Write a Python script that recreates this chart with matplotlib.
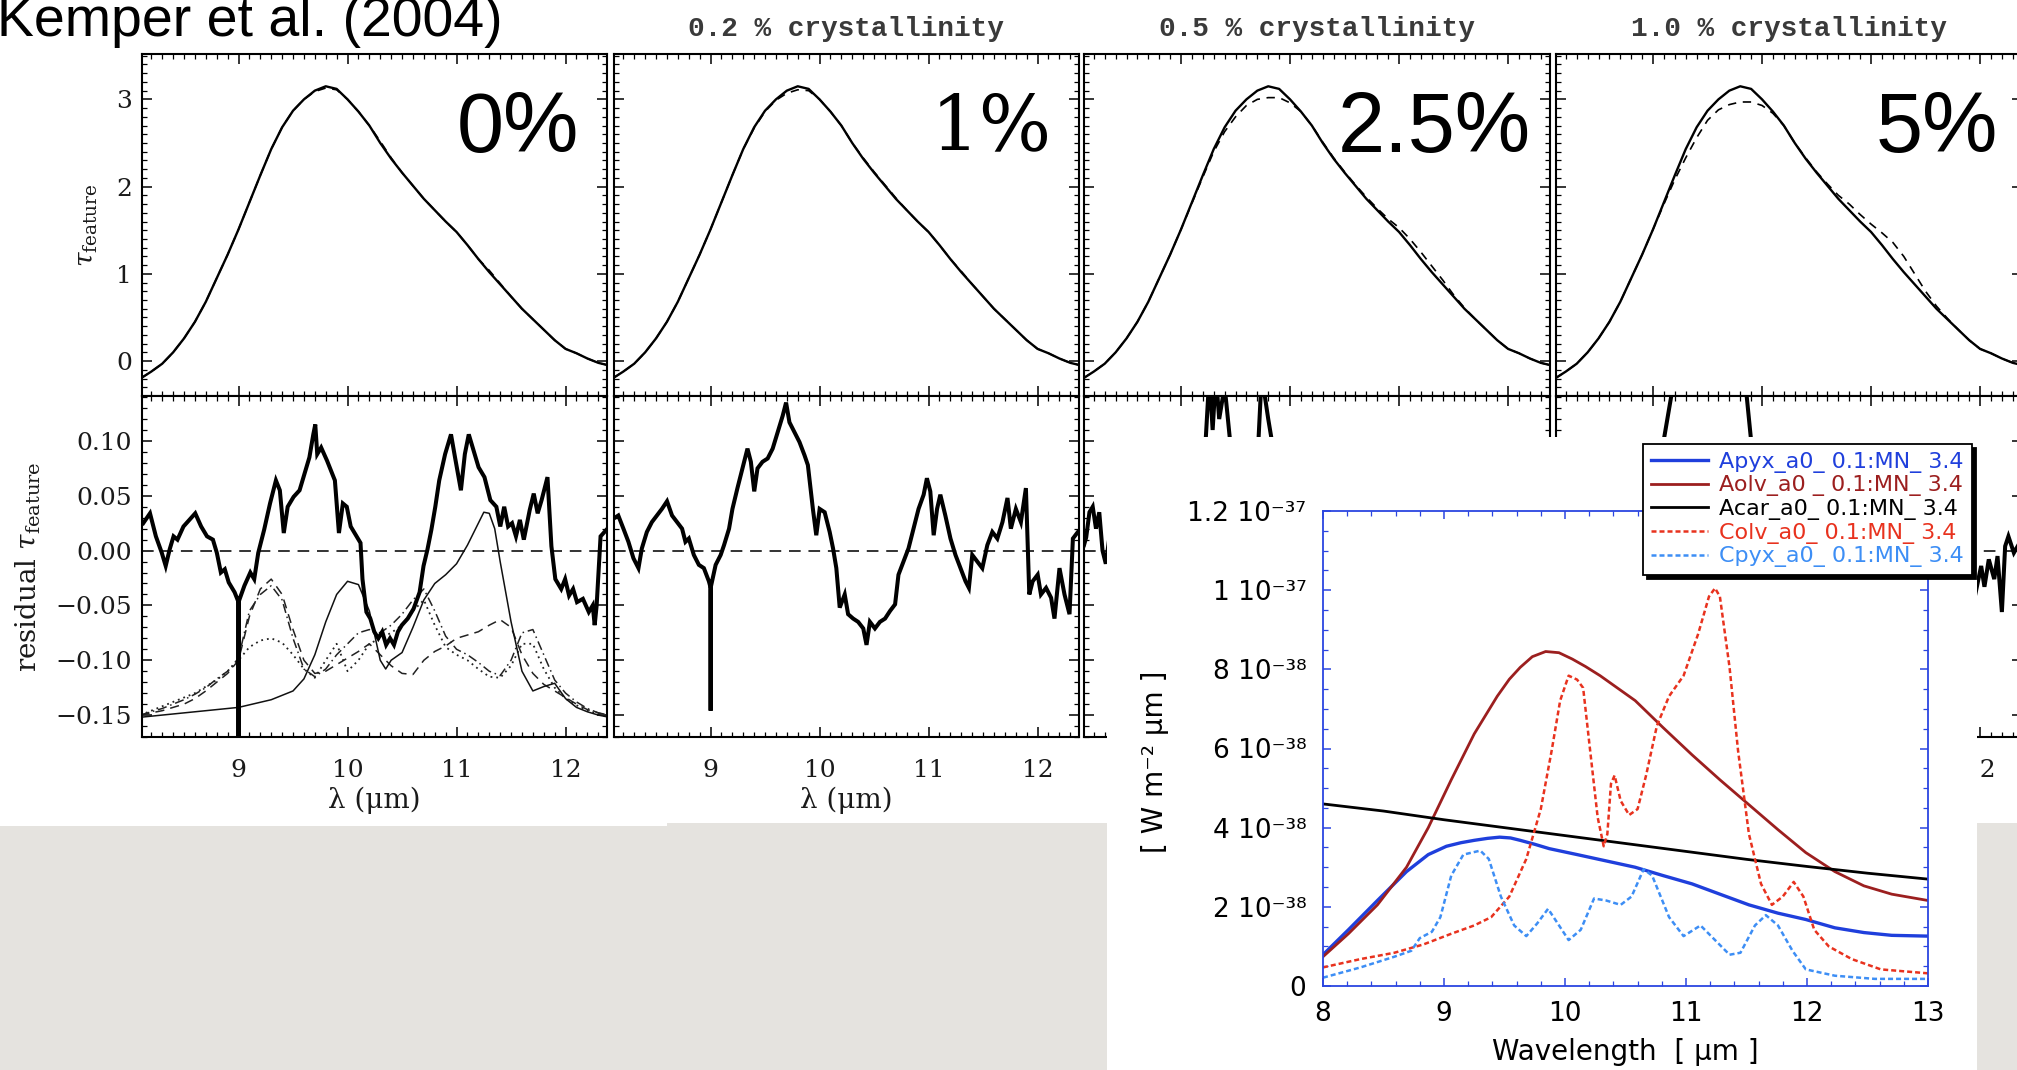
import numpy as np
import matplotlib
matplotlib.use("Agg")
import matplotlib.pyplot as plt
from matplotlib.patches import Rectangle
from matplotlib.ticker import MultipleLocator, FuncFormatter

plt.rcParams['font.family'] = 'DejaVu Serif'
plt.rcParams['mathtext.fontset'] = 'dejavuserif'

W, H = 2017, 1070
nan = np.nan

# ---------------- data: Kemper et al. (2004) panels ----------------
wl = [8.1, 8.2, 8.3, 8.4, 8.5, 8.6, 8.7, 8.8, 8.9, 9.0, 9.1, 9.2, 9.3, 9.4, 9.5,
      9.6, 9.7, 9.8, 9.9, 10.0, 10.1, 10.2, 10.3, 10.4, 10.5, 10.6, 10.7, 10.8,
      10.9, 11.0, 11.1, 11.2, 11.3, 11.4, 11.5, 11.6, 11.7, 11.8, 11.9, 12.0,
      12.1, 12.2, 12.3, 12.4]
tau_obs = [-0.20, -0.12, -0.03, 0.10, 0.26, 0.45, 0.68, 0.95, 1.22, 1.51, 1.82,
           2.13, 2.43, 2.68, 2.87, 3.00, 3.10, 3.15, 3.12, 3.00, 2.86, 2.70, 2.50,
           2.32, 2.16, 2.01, 1.86, 1.73, 1.60, 1.48, 1.33, 1.17, 1.02, 0.88, 0.74,
           0.60, 0.48, 0.36, 0.24, 0.14, 0.09, 0.03, -0.02, -0.05]
tau_model_0 = [-0.20, -0.12, -0.03, 0.10, 0.26, 0.45, 0.68, 0.95, 1.22, 1.51, 1.82,
               2.13, 2.43, 2.68, 2.87, 3.00, 3.09, 3.13, 3.11, 3.00, 2.86, 2.70, 2.52,
               2.33, 2.16, 2.01, 1.86, 1.73, 1.60, 1.48, 1.33, 1.17, 1.04, 0.89, 0.74,
               0.60, 0.48, 0.36, 0.24, 0.14, 0.09, 0.03, -0.02, -0.05]
tau_model_1 = [-0.20, -0.12, -0.03, 0.10, 0.26, 0.45, 0.68, 0.95, 1.22, 1.51, 1.82,
               2.13, 2.43, 2.67, 2.86, 2.99, 3.07, 3.11, 3.10, 3.00, 2.86, 2.70, 2.50,
               2.33, 2.17, 2.02, 1.87, 1.73, 1.60, 1.48, 1.33, 1.17, 1.03, 0.88, 0.74,
               0.60, 0.48, 0.36, 0.24, 0.14, 0.09, 0.03, -0.02, -0.05]
tau_model_2p5 = [-0.20, -0.12, -0.03, 0.10, 0.26, 0.45, 0.68, 0.95, 1.22, 1.51, 1.81,
                 2.11, 2.40, 2.63, 2.80, 2.93, 3.00, 3.02, 3.02, 2.96, 2.86, 2.70, 2.51,
                 2.33, 2.17, 2.02, 1.88, 1.75, 1.63, 1.53, 1.40, 1.25, 1.09, 0.93, 0.76,
                 0.61, 0.48, 0.36, 0.24, 0.14, 0.09, 0.03, -0.02, -0.05]
tau_model_5 = [-0.20, -0.12, -0.03, 0.10, 0.26, 0.45, 0.68, 0.95, 1.22, 1.51, 1.80,
               2.08, 2.33, 2.56, 2.76, 2.88, 2.94, 2.97, 2.97, 2.93, 2.84, 2.70, 2.50,
               2.33, 2.17, 2.03, 1.90, 1.80, 1.68, 1.57, 1.47, 1.36, 1.20, 1.00, 0.80,
               0.63, 0.49, 0.36, 0.24, 0.14, 0.09, 0.03, -0.02, -0.05]

# residuals (observed - model)
res1_x = [8.126, 8.188, 8.242, 8.296, 8.332, 8.368, 8.404, 8.440, 8.495, 8.549, 8.603,
          8.657, 8.711, 8.765, 8.801, 8.838, 8.874, 8.910, 8.964, 9.000, 9.000, 9.000,
          9.054, 9.108, 9.144, 9.181, 9.235, 9.289, 9.343, 9.379, 9.415, 9.451, 9.505,
          9.560, 9.596, 9.650, 9.686, 9.704, 9.722, 9.758, 9.812, 9.848, 9.884, 9.921,
          9.957, 9.993, 10.029, 10.065, 10.119, 10.137, 10.173, 10.209, 10.245, 10.282,
          10.318, 10.354, 10.390, 10.426, 10.462, 10.498, 10.552, 10.606, 10.661,
          10.697, 10.733, 10.769, 10.805, 10.841, 10.895, 10.949, 10.986, 11.040,
          11.076, 11.112, 11.148, 11.202, 11.256, 11.310, 11.365, 11.401, 11.437,
          11.473, 11.509, 11.545, 11.581, 11.617, 11.671, 11.708, 11.744, 11.780,
          11.834, 11.870, 11.906, 11.960, 11.996, 12.032, 12.069, 12.105, 12.159,
          12.213, 12.249, 12.267, 12.285, 12.321, 12.375]
res1_y = [0.025, 0.034, 0.013, -0.002, -0.014, 0.001, 0.013, 0.010, 0.022, 0.028, 0.034,
          0.022, 0.013, 0.010, -0.002, -0.020, -0.017, -0.029, -0.038, -0.047, -0.170,
          -0.047, -0.032, -0.020, -0.026, -0.002, 0.019, 0.043, 0.064, 0.055, 0.016,
          0.040, 0.049, 0.055, 0.067, 0.085, 0.106, 0.115, 0.088, 0.094, 0.082, 0.073,
          0.064, 0.016, 0.043, 0.040, 0.022, 0.016, 0.007, -0.026, -0.056, -0.062,
          -0.074, -0.080, -0.074, -0.086, -0.080, -0.086, -0.074, -0.068, -0.062,
          -0.053, -0.038, -0.014, 0.001, 0.019, 0.040, 0.064, 0.088, 0.106, 0.085,
          0.055, 0.088, 0.106, 0.094, 0.076, 0.067, 0.046, 0.040, 0.022, 0.040, 0.022,
          0.025, 0.013, 0.028, 0.010, 0.037, 0.052, 0.034, 0.046, 0.067, 0.004, -0.026,
          -0.035, -0.026, -0.041, -0.035, -0.047, -0.044, -0.056, -0.050, -0.068,
          -0.050, 0.013, 0.019]
res2_x = [8.108, 8.154, 8.201, 8.247, 8.293, 8.339, 8.370, 8.416, 8.462, 8.508, 8.554,
          8.601, 8.647, 8.693, 8.739, 8.770, 8.801, 8.847, 8.893, 8.939, 8.985, 9.001,
          9.001, 9.001, 9.047, 9.093, 9.124, 9.170, 9.201, 9.247, 9.293, 9.339, 9.370,
          9.401, 9.431, 9.477, 9.524, 9.570, 9.616, 9.662, 9.693, 9.724, 9.770, 9.816,
          9.862, 9.893, 9.939, 9.970, 10.001, 10.047, 10.093, 10.124, 10.154, 10.185,
          10.231, 10.262, 10.308, 10.354, 10.401, 10.431, 10.462, 10.508, 10.554,
          10.601, 10.647, 10.693, 10.724, 10.770, 10.816, 10.862, 10.908, 10.955,
          10.985, 11.016, 11.047, 11.078, 11.108, 11.154, 11.201, 11.247, 11.293,
          11.339, 11.370, 11.401, 11.447, 11.493, 11.539, 11.585, 11.631, 11.678,
          11.724, 11.755, 11.801, 11.847, 11.893, 11.924, 11.955, 12.001, 12.031,
          12.078, 12.124, 12.155, 12.201, 12.247, 12.293, 12.324, 12.370]
res2_y = [0.029, 0.032, 0.020, 0.008, -0.007, -0.016, 0.002, 0.017, 0.026, 0.032, 0.038,
          0.045, 0.032, 0.026, 0.020, 0.008, 0.011, -0.004, -0.013, -0.016, -0.028,
          -0.034, -0.146, -0.034, -0.013, -0.004, 0.005, 0.020, 0.038, 0.057, 0.075,
          0.093, 0.081, 0.054, 0.075, 0.081, 0.084, 0.093, 0.108, 0.123, 0.135, 0.117,
          0.108, 0.099, 0.087, 0.078, 0.038, 0.014, 0.038, 0.035, 0.017, 0.002, -0.016,
          -0.052, -0.040, -0.058, -0.062, -0.065, -0.071, -0.086, -0.065, -0.071,
          -0.065, -0.062, -0.055, -0.049, -0.022, -0.010, 0.002, 0.020, 0.038, 0.051,
          0.066, 0.054, 0.014, 0.038, 0.051, 0.032, 0.011, -0.004, -0.016, -0.028,
          -0.034, -0.004, -0.010, -0.016, 0.005, 0.017, 0.011, 0.026, 0.048, 0.020,
          0.038, 0.026, 0.057, -0.040, -0.028, -0.022, -0.040, -0.034, -0.043, -0.062,
          -0.016, -0.040, -0.058, 0.011, 0.017]
# only the readable (unhidden) parts of the 0.5 % and 1.0 % residuals
res3_x = [8.11, 8.13, 8.16, 8.19, 8.22, 8.25, 8.28, 8.31, 8.34, nan,
          9.18, 9.22, 9.26, 9.29, 9.32, 9.35, 9.40, 9.45, 9.50, nan,
          9.70, 9.74, 9.80, 9.85, 9.90]
res3_y = [0.005, 0.012, 0.035, 0.040, 0.020, 0.035, 0.000, -0.012, 0.010, nan,
          0.060, 0.090, 0.160, 0.110, 0.160, 0.120, 0.150, 0.100, 0.070, nan,
          0.080, 0.160, 0.120, 0.090, 0.060]
res4_x = [9.02, 9.08, 9.14, 9.20, 9.50, 9.84, 9.88, 9.92, nan,
          11.90, 11.96, 12.01, 12.04, 12.08, 12.13, 12.16, 12.20, 12.23, 12.26, 12.31, 12.38]
res4_y = [0.060, 0.090, 0.125, 0.160, 0.180, 0.160, 0.120, 0.080, nan,
          -0.020, -0.038, -0.014, -0.033, -0.008, -0.026, -0.005, -0.056, 0.004, 0.013,
          -0.002, 0.010]

# laboratory dust components (offset) shown in the 0 % residual panel
comp_dash = [-0.150, -0.148, -0.146, -0.143, -0.140, -0.135, -0.128, -0.120, -0.112,
             -0.100, -0.060, -0.035, -0.026, -0.040, -0.072, -0.100, -0.112, -0.110,
             -0.104, -0.098, -0.092, -0.085, -0.095, -0.105, -0.112, -0.113, -0.100,
             -0.092, -0.087, -0.080, -0.077, -0.074, -0.068, -0.063, -0.070, -0.095,
             -0.112, -0.122, -0.128, -0.134, -0.140, -0.145, -0.148, -0.150]
comp_dashdot = [-0.150, -0.147, -0.144, -0.140, -0.136, -0.131, -0.125, -0.117, -0.110,
                -0.098, -0.055, -0.040, -0.032, -0.045, -0.080, -0.108, -0.115, -0.108,
                -0.095, -0.085, -0.075, -0.072, -0.075, -0.068, -0.058, -0.045, -0.035,
                -0.055, -0.078, -0.090, -0.095, -0.102, -0.110, -0.114, -0.100, -0.075,
                -0.072, -0.095, -0.118, -0.130, -0.138, -0.144, -0.148, -0.151]
comp_dot = [-0.150, -0.146, -0.142, -0.138, -0.134, -0.130, -0.124, -0.118, -0.110,
            -0.100, -0.088, -0.082, -0.080, -0.084, -0.095, -0.108, -0.116, -0.100,
            -0.085, -0.110, -0.100, -0.085, -0.080, -0.075, -0.068, -0.055, -0.045,
            -0.068, -0.088, -0.095, -0.100, -0.108, -0.115, -0.116, -0.105, -0.085,
            -0.085, -0.108, -0.125, -0.135, -0.141, -0.146, -0.149, -0.152]
comp_solid_x = [8.1, 8.5, 9.0, 9.3, 9.5, 9.6, 9.7, 9.8, 9.9, 10.0, 10.1, 10.2, 10.3,
                10.35, 10.4, 10.5, 10.6, 10.7, 10.8, 10.9, 11.0, 11.1, 11.2, 11.25, 11.3,
                11.35, 11.4, 11.5, 11.6, 11.7, 11.8, 11.9, 12.0, 12.1, 12.2, 12.3, 12.4]
comp_solid_y = [-0.152, -0.148, -0.143, -0.136, -0.128, -0.117, -0.095, -0.065, -0.040,
                -0.028, -0.031, -0.055, -0.100, -0.108, -0.100, -0.093, -0.070, -0.045,
                -0.030, -0.022, -0.012, 0.005, 0.025, 0.035, 0.034, 0.020, -0.010, -0.065,
                -0.110, -0.128, -0.124, -0.121, -0.135, -0.143, -0.147, -0.150, -0.152]

panel_titles = ['', '0.2 % crystallinity', '0.5 % crystallinity', '1.0 % crystallinity']
panel_tags = ['0%', '1%', '2.5%', '5%']

# ---------------- data: model spectra inset (units of 1e-38 W m^-2 um) ----------------
apyx_x = [8.0, 8.21, 8.45, 8.69, 8.87, 9.02, 9.14, 9.25, 9.36, 9.46, 9.55, 9.63, 9.75,
          9.87, 10.10, 10.34, 10.58, 10.81, 11.05, 11.28, 11.52, 11.76, 11.99, 12.23,
          12.47, 12.70, 13.0]
apyx_y = [0.79, 1.42, 2.16, 2.89, 3.32, 3.53, 3.62, 3.68, 3.73, 3.76, 3.74, 3.68, 3.58,
          3.47, 3.32, 3.16, 3.00, 2.79, 2.58, 2.32, 2.05, 1.84, 1.68, 1.47, 1.35, 1.28,
          1.26]
aolv_x = [8.0, 8.21, 8.45, 8.69, 8.87, 9.06, 9.25, 9.44, 9.54, 9.63, 9.73, 9.84, 9.95,
          10.06, 10.17, 10.29, 10.58, 10.81, 11.05, 11.28, 11.52, 11.76, 11.99, 12.23,
          12.47, 12.70, 13.0]
aolv_y = [0.74, 1.32, 2.05, 3.00, 4.00, 5.21, 6.37, 7.32, 7.75, 8.05, 8.32, 8.45, 8.42,
          8.26, 8.07, 7.84, 7.21, 6.53, 5.84, 5.21, 4.58, 3.95, 3.37, 2.89, 2.53, 2.32,
          2.16]
acar_x = [8.0, 8.5, 9.0, 9.5, 10.0, 10.5, 11.0, 11.5, 12.0, 12.5, 13.0]
acar_y = [4.60, 4.42, 4.20, 4.00, 3.80, 3.60, 3.40, 3.20, 3.02, 2.85, 2.70]
colv_x = [8.0, 8.31, 8.59, 8.83, 9.06, 9.25, 9.39, 9.54, 9.68, 9.80, 9.89, 9.96, 10.03,
          10.10, 10.15, 10.20, 10.27, 10.32, 10.35, 10.38, 10.41, 10.46, 10.53, 10.60,
          10.67, 10.76, 10.86, 10.98, 11.10, 11.19, 11.24, 11.28, 11.36, 11.43, 11.52,
          11.62, 11.71, 11.80, 11.89, 11.97, 12.06, 12.18, 12.37, 12.61, 13.0]
colv_y = [0.47, 0.68, 0.84, 1.05, 1.32, 1.53, 1.74, 2.26, 3.21, 4.47, 5.95, 7.21, 7.84,
          7.74, 7.53, 6.16, 4.26, 3.53, 3.84, 5.11, 5.32, 4.68, 4.32, 4.47, 5.32, 6.58,
          7.32, 7.84, 8.89, 9.84, 10.05, 9.84, 8.05, 5.95, 3.84, 2.58, 2.05, 2.26, 2.63,
          2.26, 1.42, 1.00, 0.68, 0.42, 0.32]
cpyx_x = [8.0, 8.31, 8.59, 8.73, 8.80, 8.90, 8.97, 9.06, 9.16, 9.30, 9.37, 9.47, 9.58,
          9.68, 9.77, 9.86, 9.94, 10.03, 10.13, 10.24, 10.34, 10.46, 10.55, 10.65, 10.72,
          10.86, 10.98, 11.12, 11.24, 11.36, 11.45, 11.57, 11.66, 11.76, 11.88, 11.99,
          12.23, 12.56, 13.0]
cpyx_y = [0.21, 0.47, 0.74, 0.89, 1.21, 1.37, 1.74, 2.79, 3.32, 3.42, 3.21, 2.26, 1.53,
          1.26, 1.58, 1.95, 1.58, 1.16, 1.42, 2.21, 2.16, 2.05, 2.26, 2.95, 2.79, 1.74,
          1.26, 1.53, 1.16, 0.79, 0.84, 1.53, 1.79, 1.53, 0.89, 0.42, 0.26, 0.18, 0.18]
inset_labels = ['Apyx_a0_ 0.1:MN_ 3.4', 'Aolv_a0 _ 0.1:MN_ 3.4', 'Acar_a0_ 0.1:MN_ 3.4',
                'Colv_a0_ 0.1:MN_ 3.4', 'Cpyx_a0_ 0.1:MN_ 3.4']

# ---------------- figure ----------------
fig = plt.figure(figsize=(W / 100, H / 100), dpi=100)
fig.patch.set_facecolor('white')


def frect(l, t, w, h):
    return [l / W, 1 - (t + h) / H, w / W, h / H]


GRAY = '#e5e3df'
for (l, t, w) in [(0, 826, 667), (667, 823, 440), (1977, 823, 60)]:
    fig.add_artist(Rectangle((l / W, 0), w / W, (H - t) / H, transform=fig.transFigure,
                             facecolor=GRAY, edgecolor='none', zorder=1))

fig.text(-3 / W, 1 - 36 / H, 'Kemper et al. (2004)', fontsize=40, family='Liberation Sans',
         va='baseline', ha='left', zorder=3)

lefts = [141.5, 613.5, 1084.0, 1556.0]
PW = 465.5
TOP_T, TOP_H = 54, 342
BOT_T, BOT_H = 396, 341
XL = (8.11, 12.38)


def style_idl(ax):
    for sp in ax.spines.values():
        sp.set_linewidth(1.5)
        sp.set_color('black')
    ax.tick_params(which='both', direction='in', top=True, right=True, bottom=True,
                   left=True, color='black', labelsize=18, labelcolor='#1a1a1a')
    ax.tick_params(which='major', length=7, width=1.1)
    ax.tick_params(which='minor', length=3.5, width=0.9)
    ax.set_xlim(*XL)
    ax.xaxis.set_major_locator(MultipleLocator(1))
    ax.xaxis.set_minor_locator(MultipleLocator(0.1))


def resid_fmt(v, pos):
    if abs(v) < 1e-9:
        return '0.00'
    return f'{v:.2f}'.replace('-', '\u2212')


tau_models = [tau_model_0, tau_model_1, tau_model_2p5, tau_model_5]
residuals = [(res1_x, res1_y), (res2_x, res2_y), (res3_x, res3_y), (res4_x, res4_y)]
tag_pos = [(579, 152), (1052, 149), (1531, 152), (1998, 152)]
tag_font = [('Liberation Sans', 61), ('DejaVu Serif', 55), ('Liberation Sans', 61),
            ('Liberation Sans', 61)]

for i in range(4):
    axT = fig.add_axes(frect(lefts[i], TOP_T, PW, TOP_H), zorder=2)
    style_idl(axT)
    axT.plot(wl, tau_obs, color='black', lw=1.7)
    axT.plot(wl, tau_models[i], color='black', lw=1.2, ls=(0, (5, 4)))
    axT.set_ylim(-0.40, 3.52)
    axT.yaxis.set_major_locator(MultipleLocator(1))
    axT.yaxis.set_minor_locator(MultipleLocator(0.1))
    axT.tick_params(labelbottom=False, labelleft=(i == 0), pad=7)
    if panel_titles[i]:
        axT.set_title(panel_titles[i], fontfamily='Liberation Mono', fontweight='bold',
                      fontsize=20, color='#3a3a3a', pad=13)
    fam, fs = tag_font[i]
    fig.text(tag_pos[i][0] / W, 1 - tag_pos[i][1] / H, panel_tags[i], family=fam,
             fontsize=fs, ha='right', va='baseline', zorder=3)

    axB = fig.add_axes(frect(lefts[i], BOT_T, PW, BOT_H), zorder=2)
    style_idl(axB)
    axB.axhline(0, color='#333333', lw=1.4, ls=(0, (6, 4)))
    if i == 0:
        axB.plot(wl, comp_dash, color='#222222', lw=1.1, ls=(0, (6, 4)))
        axB.plot(wl, comp_dashdot, color='#222222', lw=1.1, ls=(0, (6, 2.5, 1, 2.5)))
        axB.plot(wl, comp_dot, color='#222222', lw=1.3, ls=(0, (1, 2.2)))
        axB.plot(comp_solid_x, comp_solid_y, color='#111111', lw=1.1)
    rx, ry = residuals[i]
    axB.plot(rx, ry, color='black', lw=2.9, solid_joinstyle='miter')
    axB.set_ylim(-0.170, 0.141)
    axB.yaxis.set_major_locator(MultipleLocator(0.05))
    axB.yaxis.set_minor_locator(MultipleLocator(0.01))
    axB.yaxis.set_major_formatter(FuncFormatter(resid_fmt))
    axB.tick_params(labelleft=(i == 0), pad=7)
    axB.tick_params(axis='x', pad=16)
    if i == 2:
        # the 0.5 % panel's x axis labels lie entirely under the inset
        axB.tick_params(labelbottom=False)
    else:
        axB.set_xlabel('λ (μm)', fontsize=20, color='#1a1a1a')
        axB.xaxis.set_label_coords(0.5, -(800 - 737) / BOT_H)
        axB.xaxis.label.set_va('center')
    if i == 0:
        axT.set_ylabel(r'$\tau_{\rm feature}$', fontsize=19, color='#1a1a1a')
        axT.yaxis.set_label_coords((88 - lefts[0]) / PW, 0.5)
        axT.yaxis.label.set_va('center')
        axB.set_ylabel(r'residual $\tau_{\rm feature}$', fontsize=20, color='#1a1a1a')
        axB.yaxis.set_label_coords((28 - lefts[0]) / PW, 0.5)
        axB.yaxis.label.set_va('center')

# ---------------- inset: model spectra ----------------
fig.add_artist(Rectangle((1107 / W, 0), (1977 - 1107) / W, (H - 437) / H,
                         transform=fig.transFigure, facecolor='white', edgecolor='none',
                         zorder=5))
IL, IT, IW, IH = 1323, 511, 605, 475
axi = fig.add_axes(frect(IL, IT, IW, IH), zorder=6)
axi.set_facecolor('white')
C_APYX, C_AOLV, C_ACAR, C_COLV, C_CPYX = '#1f3fdc', '#9c1f1f', '#000000', '#e8321e', '#3d8ef5'
axi.plot(apyx_x, apyx_y, color=C_APYX, lw=2.4, label=inset_labels[0])
axi.plot(aolv_x, aolv_y, color=C_AOLV, lw=2.0, label=inset_labels[1])
axi.plot(acar_x, acar_y, color=C_ACAR, lw=2.0, label=inset_labels[2])
axi.plot(colv_x, colv_y, color=C_COLV, lw=1.8, ls=(0, (2, 1.2)), label=inset_labels[3])
axi.plot(cpyx_x, cpyx_y, color=C_CPYX, lw=1.8, ls=(0, (2, 1.2)), label=inset_labels[4])
axi.set_xlim(8, 13)
axi.set_ylim(0, 12)
axi.xaxis.set_major_locator(MultipleLocator(1))
axi.xaxis.set_minor_locator(MultipleLocator(0.2))
axi.yaxis.set_major_locator(MultipleLocator(2))
axi.yaxis.set_minor_locator(MultipleLocator(0.5))

SUP = str.maketrans('-0123456789', '\u207b\u2070\u00b9\u00b2\u00b3\u2074\u2075\u2076\u2077\u2078\u2079')


def flux_label(v, pos):
    if abs(v) < 1e-9:
        return '0'
    if v < 0:
        return ''
    val = v * 1e-38
    e = int(np.floor(np.log10(val) + 1e-9))
    m = val / 10.0 ** e
    return f'{m:g} 10' + str(e).translate(SUP)


axi.yaxis.set_major_formatter(FuncFormatter(flux_label))
SPC = '#2b45e0'
for sp in axi.spines.values():
    sp.set_color(SPC)
    sp.set_linewidth(1.3)
axi.tick_params(which='both', direction='in', top=True, right=True, color=SPC,
                labelsize=19, labelfontfamily='DejaVu Sans', labelcolor='black')
axi.tick_params(which='major', length=6, width=1.1)
axi.tick_params(which='minor', length=3.5, width=0.9)
axi.tick_params(axis='x', pad=11)
axi.tick_params(axis='y', pad=12)
axi.set_ylabel('[ W m\u207b\u00b2 \u00b5m ]', fontsize=20, family='DejaVu Sans')
axi.yaxis.set_label_coords((1155 - IL) / IW, 0.472)
axi.yaxis.label.set_va('center')
axi.set_xlabel('Wavelength  [ \u00b5m ]', fontsize=20, family='DejaVu Sans')
axi.xaxis.set_label_coords(0.5, -(1052 - (IT + IH)) / IH)
axi.xaxis.label.set_va('center')

leg = axi.legend(loc='upper right', bbox_to_anchor=(1972 / W, 1 - 444 / H),
                 bbox_transform=fig.transFigure, frameon=True, fancybox=False,
                 edgecolor='black', framealpha=1,
                 shadow={'ox': 3, 'oy': -3, 'facecolor': 'black', 'edgecolor': 'black',
                         'alpha': 1},
                 labelcolor='linecolor', prop={'family': 'DejaVu Sans', 'size': 16},
                 handlelength=2.6, handletextpad=0.5, labelspacing=0.12, borderpad=0.35,
                 borderaxespad=0)
leg.get_frame().set_linewidth(1.3)

fig.savefig('out.png', dpi=100, facecolor='white')
